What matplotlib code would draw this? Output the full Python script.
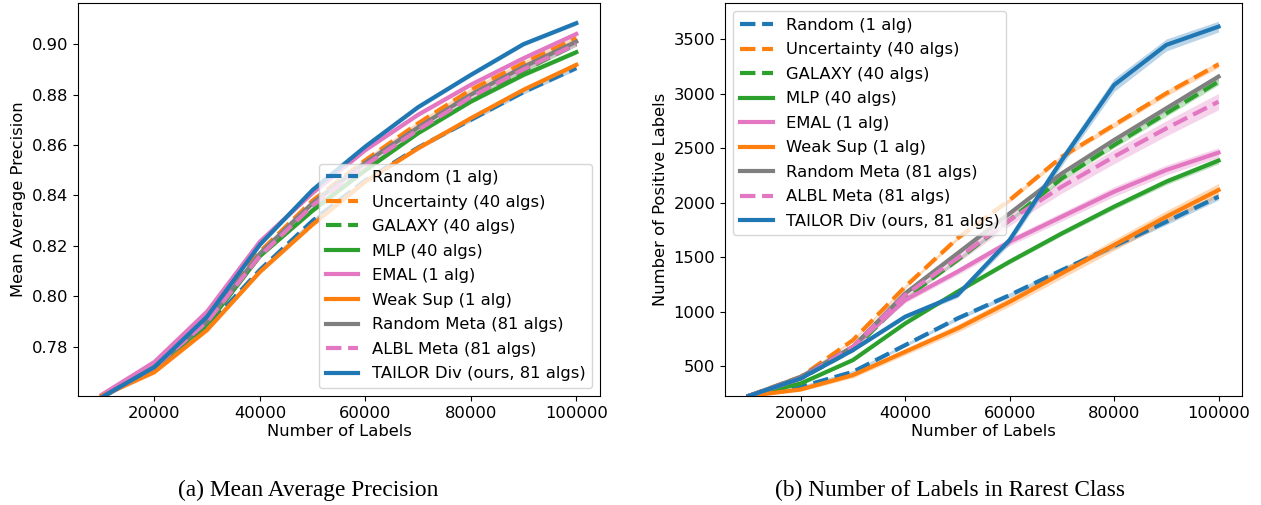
import matplotlib.pyplot as plt
import numpy as np

plt.rcParams['font.size'] = 11.8

# number of labels queried
n_labels = [10000, 20000, 30000, 40000, 50000, 60000, 70000, 80000, 90000, 100000]

names = ['Random (1 alg)', 'Uncertainty (40 algs)', 'GALAXY (40 algs)', 'MLP (40 algs)',
         'EMAL (1 alg)', 'Weak Sup (1 alg)', 'Random Meta (81 algs)', 'ALBL Meta (81 algs)',
         'TAILOR Div (ours, 81 algs)']
colors = ['C0', 'C1', 'C2', 'C2', 'C6', 'C1', 'C7', 'C6', 'C0']
styles = ['--', '--', '--', '-', '-', '-', '-', '--', '-']

# (a) mean average precision
map_random = [0.7605, 0.771, 0.788, 0.8105, 0.830, 0.846, 0.859, 0.870, 0.881, 0.8905]
map_uncert = [0.760, 0.772, 0.791, 0.8177, 0.838, 0.854, 0.8686, 0.8819, 0.8925, 0.9024]
map_galaxy = [0.760, 0.772, 0.789, 0.816, 0.835, 0.851, 0.865, 0.878, 0.8895, 0.900]
map_mlp = [0.760, 0.772, 0.789, 0.816, 0.834, 0.850, 0.8647, 0.8772, 0.8878, 0.8968]
map_emal = [0.761, 0.774, 0.794, 0.8217, 0.841, 0.858, 0.872, 0.8839, 0.8944, 0.904]
map_weak = [0.7605, 0.770, 0.7867, 0.8097, 0.8285, 0.8455, 0.8587, 0.8706, 0.8819, 0.8918]
map_rmeta = [0.760, 0.772, 0.790, 0.817, 0.837, 0.853, 0.867, 0.880, 0.891, 0.901]
map_albl = [0.760, 0.772, 0.790, 0.816, 0.836, 0.852, 0.866, 0.879, 0.890, 0.900]
map_tailor = [0.760, 0.772, 0.792, 0.8205, 0.8422, 0.8594, 0.875, 0.8878, 0.900, 0.9083]
map_err = [0.0008, 0.0008, 0.0008, 0.0008, 0.0008, 0.0008, 0.0008, 0.0008, 0.0008, 0.0008]

# (b) positive labels in the rarest class
pos_random = [225, 310, 447, 692, 937, 1151, 1381, 1602, 1825, 2055]
pos_uncert = [225, 401, 738, 1228, 1672, 2024, 2422, 2713, 3004, 3270]
pos_galaxy = [225, 386, 647, 1121, 1473, 1840, 2223, 2529, 2820, 3111]
pos_mlp = [225, 340, 555, 891, 1182, 1458, 1718, 1963, 2193, 2386]
pos_emal = [225, 386, 677, 1106, 1366, 1641, 1871, 2101, 2300, 2459]
pos_weak = [225, 285, 417, 631, 845, 1090, 1351, 1611, 1871, 2116]
pos_rmeta = [225, 401, 677, 1167, 1534, 1901, 2269, 2575, 2866, 3157]
pos_albl = [225, 386, 677, 1152, 1488, 1840, 2147, 2422, 2682, 2927]
pos_tailor = [225, 386, 647, 953, 1152, 1657, 2390, 3080, 3448, 3616]
pos_err = [[8, 10, 12, 15, 18, 20, 22, 25, 28, 30],
           [8, 10, 12, 15, 18, 20, 22, 25, 28, 30],
           [8, 10, 12, 15, 18, 20, 22, 25, 28, 30],
           [8, 10, 12, 15, 18, 20, 22, 25, 28, 30],
           [8, 12, 20, 25, 30, 35, 40, 45, 45, 45],
           [8, 15, 25, 30, 35, 40, 45, 50, 55, 60],
           [8, 10, 12, 15, 18, 20, 22, 25, 28, 30],
           [8, 12, 20, 30, 40, 50, 60, 65, 70, 75],
           [8, 10, 15, 20, 25, 40, 50, 60, 55, 50]]

map_all = [map_random, map_uncert, map_galaxy, map_mlp, map_emal, map_weak, map_rmeta, map_albl, map_tailor]
pos_all = [pos_random, pos_uncert, pos_galaxy, pos_mlp, pos_emal, pos_weak, pos_rmeta, pos_albl, pos_tailor]

fig = plt.figure(figsize=(12.61, 5.05), dpi=100)
ax1 = fig.add_axes([78/1261, 109/505, 522/1261, 393/505])
ax2 = fig.add_axes([725/1261, 109/505, 517/1261, 393/505])

x = np.array(n_labels)
for i in range(len(names)):
    m = np.array(map_all[i])
    e = np.array(map_err)
    ax1.fill_between(x, m - e, m + e, color=colors[i], alpha=0.3, lw=0)
    ax1.plot(x, m, styles[i], color=colors[i], lw=3, label=names[i])

    p = np.array(pos_all[i])
    e = np.array(pos_err[i])
    ax2.fill_between(x, p - e, p + e, color=colors[i], alpha=0.3, lw=0)
    ax2.plot(x, p, styles[i], color=colors[i], lw=3, label=names[i])

ax1.set_ylim(0.7605, 0.9163)
ax1.set_xlabel('Number of Labels', labelpad=2)
ax1.set_ylabel('Mean Average Precision')
ax1.set_xticks([20000, 40000, 60000, 80000, 100000])
ax1.legend(loc='lower right', labelspacing=0.58)

ax2.set_ylim(225, 3833)
ax2.set_xlabel('Number of Labels', labelpad=2)
ax2.set_ylabel('Number of Positive Labels')
ax2.set_xticks([20000, 40000, 60000, 80000, 100000])
ax2.set_yticks([500, 1000, 1500, 2000, 2500, 3000, 3500])
ax2.legend(loc='upper left', labelspacing=0.58)

fig.text(308/1261, 1 - 490/505, '(a) Mean Average Precision', ha='center', va='center',
         family='Liberation Serif', fontsize=16.8)
fig.text(950/1261, 1 - 490/505, '(b) Number of Labels in Rarest Class', ha='center', va='center',
         family='Liberation Serif', fontsize=16.8)

fig.savefig('out.png', dpi=100)
